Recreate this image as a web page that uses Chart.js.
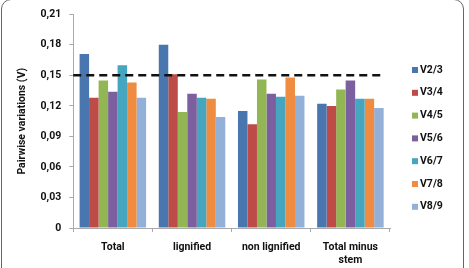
<!DOCTYPE html>
<html>
<head>
<meta charset="utf-8">
<script src="https://cdn.jsdelivr.net/npm/chart.js@4/dist/chart.umd.min.js"></script>
<style>
  html, body { margin: 0; padding: 0; background: #fff; overflow: hidden; }
  #wrap { position: relative; width: 469px; height: 268px; }
  #frame {
    position: absolute; left: 1px; top: -1px; width: 463px; height: 300px;
    border: 1.5px solid #666; border-radius: 10px; box-sizing: border-box;
  }
  canvas { position: absolute; left: 0; top: 0; }
</style>
</head>
<body>
<div id="wrap">
  <div id="frame"></div>
  <canvas id="chart" width="469" height="268"></canvas>
</div>
<script>
const categories = ['Total', 'lignified', 'non lignified', ['Total minus', 'stem']];
const seriesNames = ['V2/3', 'V3/4', 'V4/5', 'V5/6', 'V6/7', 'V7/8', 'V8/9'];
const v23 = [0.171, 0.180, 0.115, 0.122];
const v34 = [0.128, 0.151, 0.102, 0.120];
const v45 = [0.145, 0.114, 0.146, 0.136];
const v56 = [0.134, 0.132, 0.132, 0.145];
const v67 = [0.160, 0.128, 0.129, 0.127];
const v78 = [0.143, 0.127, 0.148, 0.127];
const v89 = [0.128, 0.109, 0.130, 0.118];
const cutoff = 0.15;
const yTicks = [0, 0.03, 0.06, 0.09, 0.12, 0.15, 0.18, 0.21];

const colors = ['#4a76b0', '#bd4b48', '#93b655', '#7c5f9e', '#46a5bf', '#ef8c3f', '#93b1d8'];
const series = [v23, v34, v45, v56, v67, v78, v89];
const font = { family: 'Roboto', weight: 'bold', size: 10.5 };

const cutoffLine = {
  id: 'cutoffLine',
  afterDatasetsDraw(chart) {
    const { ctx, chartArea, scales } = chart;
    const y = scales.y.getPixelForValue(cutoff);
    ctx.save();
    ctx.strokeStyle = '#111';
    ctx.lineWidth = 2.5;
    ctx.setLineDash([8, 5]);
    ctx.beginPath();
    ctx.moveTo(chartArea.left, y);
    ctx.lineTo(chartArea.right - 5, y);
    ctx.stroke();
    ctx.restore();
  }
};

const sideLegend = {
  id: 'sideLegend',
  afterDraw(chart) {
    const { ctx, chartArea } = chart;
    const x = chartArea.right + 22;
    const top = 70;
    ctx.save();
    ctx.font = 'bold 10.5px Roboto';
    ctx.textBaseline = 'middle';
    chart.data.datasets.forEach((ds, i) => {
      const y = top + i * 22.8;
      ctx.fillStyle = ds.backgroundColor;
      ctx.fillRect(x, y - 3, 6, 6);
      ctx.fillStyle = '#111';
      ctx.fillText(ds.label, x + 8, y);
    });
    ctx.restore();
  }
};

new Chart(document.getElementById('chart'), {
  type: 'bar',
  data: {
    labels: categories,
    datasets: series.map((d, i) => ({
      label: seriesNames[i],
      data: d,
      backgroundColor: colors[i],
      categoryPercentage: 0.84,
      barPercentage: 1
    }))
  },
  options: {
    responsive: false,
    animation: false,
    layout: { padding: { top: 10, right: 79, left: 12, bottom: 0 } },
    plugins: {
      legend: { display: false },
      tooltip: { enabled: false }
    },
    scales: {
      x: {
        afterFit: s => { s.height = 40; },
        grid: { display: true, drawOnChartArea: false, offset: true, color: '#aaa', tickLength: 4 },
        border: { color: '#aaa' },
        ticks: { color: '#111', font, padding: 9, maxRotation: 0 }
      },
      y: {
        min: 0,
        max: 0.21,
        afterBuildTicks: s => { s.ticks = yTicks.map(v => ({ value: v })); },
        grid: { display: true, drawOnChartArea: false, color: '#aaa', tickLength: 4 },
        border: { color: '#aaa' },
        ticks: {
          color: '#111', font, padding: 8,
          callback: v => v === 0 ? '0' : v.toFixed(2).replace('.', ',')
        },
        title: { display: true, text: 'Pairwise variations (V)', color: '#111', font, padding: 4 }
      }
    }
  },
  plugins: [cutoffLine, sideLegend]
});
</script>
</body>
</html>
